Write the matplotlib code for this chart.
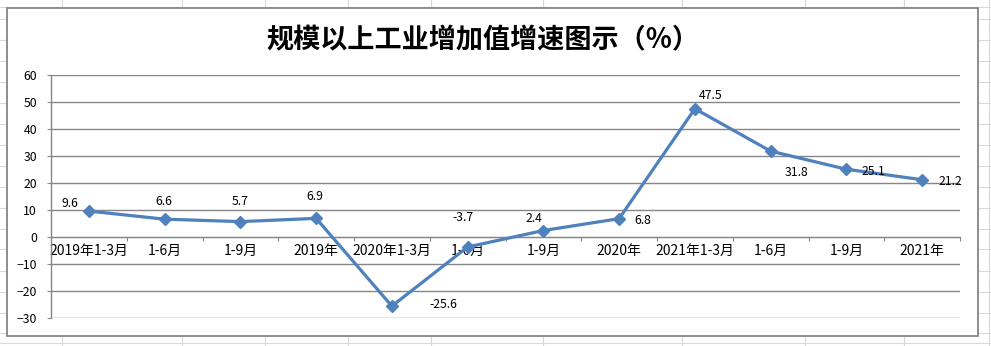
import matplotlib
matplotlib.use("Agg")
import matplotlib.pyplot as plt
from matplotlib.lines import Line2D
from matplotlib.patches import Rectangle
import numpy as np

plt.rcParams['font.family'] = ['Noto Sans CJK SC', 'DejaVu Sans']

title = "规模以上工业增加值增速图示（%）"
categories = ["2019年1-3月", "1-6月", "1-9月", "2019年", "2020年1-3月", "1-6月",
              "1-9月", "2020年", "2021年1-3月", "1-6月", "1-9月", "2021年"]
values = [9.6, 6.6, 5.7, 6.9, -25.6, -3.7, 2.4, 6.8, 47.5, 31.8, 25.1, 21.2]
yticks = [-30, -20, -10, 0, 10, 20, 30, 40, 50, 60]
# label offsets in pixels (dx, dy)
label_offsets = [(-19, 8), (-1, 18), (0, 20), (-1, 22), (51, 2), (-5, 29),
                 (-9, 12), (24, -2), (16, 13), (26, -21), (27, -2), (28, -2)]

W, H = 991, 346
fig = plt.figure(figsize=(W / 100, H / 100), dpi=100)
fig.patch.set_facecolor("white")

# spreadsheet grid in background
grid_c = "#d9d9d9"
for x in [62, 182, 265, 348, 431, 543, 682, 805, 904, 989]:
    fig.add_artist(Line2D([x / W, x / W], [0, 1], color=grid_c, lw=0.8, zorder=0))
for y in [7, 19, 40, 61, 82, 103, 124, 145, 166, 187, 208, 229, 249, 271, 292, 313, 333, 343]:
    fig.add_artist(Line2D([0, 1], [1 - y / H, 1 - y / H], color=grid_c, lw=0.8, zorder=0))

# chart frame
fx0, fy0, fx1, fy1 = 7, 8, 978, 336
fig.add_artist(Rectangle((fx0 / W, 1 - fy1 / H), (fx1 - fx0) / W, (fy1 - fy0) / H,
                         facecolor="white", edgecolor="#868686", lw=1.3, zorder=1))

ax_l, ax_r, ax_t, ax_b = 51, 960, 75, 318
ax = fig.add_axes([ax_l / W, 1 - ax_b / H, (ax_r - ax_l) / W, (ax_b - ax_t) / H])
ax.set_zorder(2)
ax.patch.set_alpha(0)

n = len(categories)
x = np.arange(n)
ax.set_xlim(-0.5, n - 0.5)
ax.set_ylim(-30, 60)

gc = "#868686"
for yv in yticks:
    if yv != 0:
        ax.axhline(yv, color=gc, lw=1.0, zorder=1)
ax.axhline(0, color=gc, lw=1.0, zorder=1)

for s in ["top", "right", "bottom"]:
    ax.spines[s].set_visible(False)
ax.spines["left"].set_color(gc)
ax.spines["left"].set_linewidth(1.0)

ax.set_yticks(yticks)
ax.tick_params(axis="y", length=3, width=0.8, color=gc, pad=7, labelsize=8.8)

ax.set_xticks(x)
ax.set_xticklabels(categories, fontsize=8.5)
ax.set_xticks(np.arange(-0.5, n, 1.0)[1:], minor=True)
ax.tick_params(axis="x", which="major", length=0, pad=0)
ax.tick_params(axis="x", which="minor", length=3, width=0.8, color=gc)
ax.spines["bottom"].set_position(("data", 0))
ax.spines["bottom"].set_visible(True)
ax.spines["bottom"].set_color(gc)
ax.xaxis.set_tick_params(which="major", pad=5)

ax.plot(x, values, color="#4F81BD", lw=2.3, marker="D", markersize=6.5,
        markerfacecolor="#4F81BD", markeredgecolor="#4F81BD", zorder=3)

for xi, v, (dx, dy) in zip(x, values, label_offsets):
    ax.annotate(f"{v}", (xi, v), xytext=(dx, dy), textcoords="offset pixels",
                ha="center", va="center", fontsize=8.8, zorder=4)

fig.text(483 / W, 1 - 40 / H, title, ha="center", va="center", fontsize=19.5,
         fontweight="bold", color="#000000", zorder=3)

fig.savefig("out.png", dpi=100, facecolor="white")
